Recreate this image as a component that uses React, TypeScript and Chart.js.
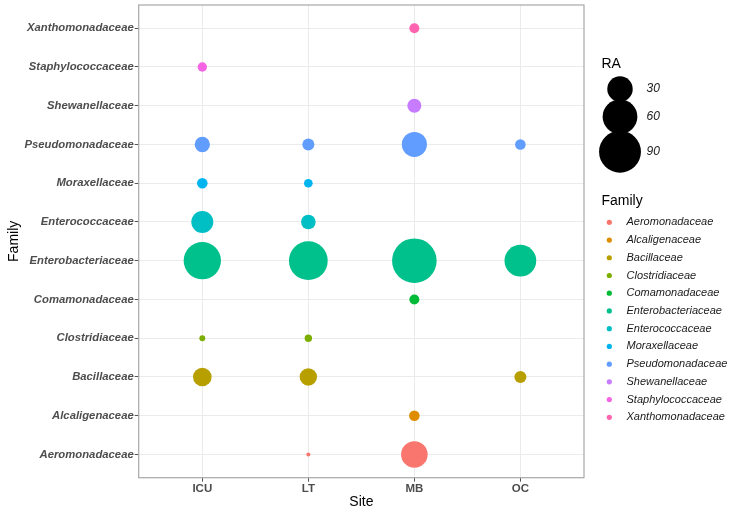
import React, { useEffect, useRef } from "react";
import { Chart, registerables } from "chart.js";

Chart.register(...registerables);

const sites = ["ICU", "LT", "MB", "OC"];
const families = [
  "Aeromonadaceae",
  "Alcaligenaceae",
  "Bacillaceae",
  "Clostridiaceae",
  "Comamonadaceae",
  "Enterobacteriaceae",
  "Enterococcaceae",
  "Moraxellaceae",
  "Pseudomonadaceae",
  "Shewanellaceae",
  "Staphylococcaceae",
  "Xanthomonadaceae",
];
const familyColors = [
  "#F8766D",
  "#DE8C00",
  "#B79F00",
  "#7CAE00",
  "#00BA38",
  "#00C08B",
  "#00BFC4",
  "#00B4F0",
  "#619CFF",
  "#C77CFF",
  "#F564E3",
  "#FF64B0",
];

// RA per family (same order as families), null = absent
const raICU = [null, null, 14.5, 0.5, null, 70, 21.5, 3.4, 9, null, 2.4, null];
const raLT = [0.06, null, 12.3, 1.15, null, 76, 8, 1.9, 4.8, null, null, null];
const raMB = [33, 3.4, null, null, 2.9, 103, null, null, 29, 7.2, null, 2.9];
const raOC = [null, null, 4.8, null, null, 49, null, null, 3.4, null, null, null];
const raBySite = [raICU, raLT, raMB, raOC];

const raLegendBreaks = [30, 60, 90];

const radiusFor = (v: number) => 1.5 + 2.05 * Math.sqrt(v);

const PANEL = { left: 138.7, right: 584, top: 5, bottom: 477.7 };
const W = 737;
const H = 514;

export default function App() {
  const ref = useRef<HTMLCanvasElement | null>(null);

  useEffect(() => {
    if (!ref.current) return;

    const datasets = families.map((fam, fi) => ({
      label: fam,
      backgroundColor: familyColors[fi],
      borderWidth: 0,
      clip: false,
      data: sites
        .map((_, si) => {
          const v = raBySite[si][fi];
          return v == null ? null : { x: si, y: fi, r: radiusFor(v) };
        })
        .filter((p) => p !== null),
    }));

    const legendPlugin = {
      id: "ggLegend",
      afterDraw(chart: any) {
        const ctx = chart.ctx;
        const ca = chart.chartArea;
        ctx.save();
        // panel border
        ctx.strokeStyle = "#a8a8a8";
        ctx.lineWidth = 1.2;
        ctx.strokeRect(ca.left, ca.top, ca.right - ca.left, ca.bottom - ca.top);

        const font = "'Liberation Sans', Arial, sans-serif";
        // RA legend
        ctx.fillStyle = "#000";
        ctx.textBaseline = "middle";
        ctx.textAlign = "left";
        ctx.font = `14px ${font}`;
        ctx.fillText("RA", 601.5, 64);
        const raY = [89, 116.7, 151.7];
        raLegendBreaks.forEach((b, i) => {
          ctx.beginPath();
          ctx.fillStyle = "#000";
          ctx.arc(620, raY[i], radiusFor(b), 0, Math.PI * 2);
          ctx.fill();
        });
        ctx.font = `italic 12px ${font}`;
        ctx.fillStyle = "#1a1a1a";
        raLegendBreaks.forEach((b, i) => {
          ctx.fillText(String(b), 646.5, raY[i]);
        });

        // Family legend
        ctx.font = `14px ${font}`;
        ctx.fillStyle = "#000";
        ctx.fillText("Family", 601.5, 200.7);
        ctx.font = `italic 11px ${font}`;
        families.forEach((fam, i) => {
          const y = 222.3 + i * 17.73;
          ctx.beginPath();
          ctx.fillStyle = familyColors[i];
          ctx.arc(609.3, y, 2.6, 0, Math.PI * 2);
          ctx.fill();
          ctx.fillStyle = "#1a1a1a";
          ctx.fillText(fam, 626.5, y);
        });
        ctx.restore();
      },
    };

    const chart = new Chart(ref.current, {
      type: "bubble",
      data: { datasets: datasets as any },
      plugins: [legendPlugin],
      options: {
        animation: false,
        responsive: false,
        devicePixelRatio: 1,
        layout: {
          autoPadding: false,
          padding: {
            left: 0,
            top: PANEL.top,
            right: W - PANEL.right,
            bottom: 0,
          },
        },
        plugins: {
          legend: { display: false },
          tooltip: { enabled: false },
        },
        scales: {
          x: {
            type: "linear",
            min: -0.6,
            max: 3.6,
            afterBuildTicks: (scale: any) => {
              scale.ticks = sites.map((_, i) => ({ value: i }));
            },
            afterFit: (scale: any) => {
              scale.height = H - PANEL.bottom;
              scale.paddingLeft = 0;
              scale.paddingRight = 0;
            },
            ticks: {
              autoSkip: false,
              maxRotation: 0,
              padding: 0,
              color: "#4d4d4d",
              font: { family: "'Liberation Sans', Arial, sans-serif", size: 11.5, weight: "bold" },
              callback: (v: any) => sites[v as number] ?? "",
            },
            grid: {
              color: "#ebebeb",
              lineWidth: 1,
              tickColor: "#555",
              tickLength: 4,
            },
            border: { display: false },
            title: {
              display: true,
              text: "Site",
              color: "#000",
              font: { family: "'Liberation Sans', Arial, sans-serif", size: 14 },
              padding: { top: 0, bottom: 3.6 },
            },
          },
          y: {
            type: "linear",
            min: -0.6,
            max: 11.6,
            afterBuildTicks: (scale: any) => {
              scale.ticks = families.map((_, i) => ({ value: i }));
            },
            afterFit: (scale: any) => {
              scale.width = PANEL.left;
              scale.paddingTop = 0;
              scale.paddingBottom = 0;
            },
            ticks: {
              autoSkip: false,
              padding: 1,
              color: "#4d4d4d",
              font: {
                family: "'Liberation Sans', Arial, sans-serif",
                size: 11.3,
                weight: "bold",
                style: "italic",
              },
              callback: (v: any) => families[v as number] ?? "",
            },
            grid: {
              color: "#ebebeb",
              lineWidth: 1,
              tickColor: "#555",
              tickLength: 4,
            },
            border: { display: false },
            title: {
              display: true,
              text: "Family",
              color: "#000",
              font: { family: "'Liberation Sans', Arial, sans-serif", size: 14 },
              padding: { top: 5.6, bottom: 0 },
            },
          },
        },
      } as any,
    });

    return () => chart.destroy();
  }, []);

  return (
    <div style={{ position: "absolute", left: 0, top: 0, width: W, height: H, background: "#fff" }}>
      <canvas ref={ref} width={W} height={H} style={{ width: W, height: H, display: "block" }} />
    </div>
  );
}
